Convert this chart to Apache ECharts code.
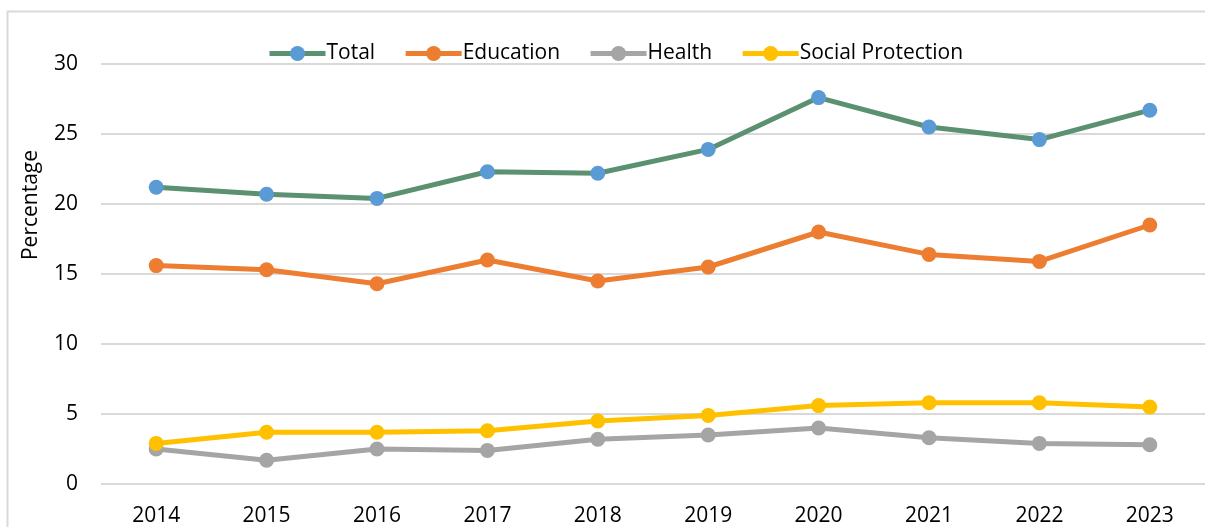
<!DOCTYPE html>
<html>
<head>
<meta charset="utf-8">
<script src="https://cdn.jsdelivr.net/npm/echarts@6/dist/echarts.min.js"></script>
<style>
  html, body { margin: 0; padding: 0; background: #fff; }
  #main { width: 1205px; height: 527px; }
</style>
</head>
<body>
<div id="main"></div>
<script>
// years on the x axis
var years = ['2014', '2015', '2016', '2017', '2018', '2019', '2020', '2021', '2022', '2023'];

// values (percentage)
var total = [21.2, 20.7, 20.4, 22.3, 22.2, 23.9, 27.6, 25.5, 24.6, 26.7];
var education = [15.6, 15.3, 14.3, 16.0, 14.5, 15.5, 18.0, 16.4, 15.9, 18.5];
var health = [2.5, 1.7, 2.5, 2.4, 3.2, 3.5, 4.0, 3.3, 2.9, 2.8];
var socialProtection = [2.9, 3.7, 3.7, 3.8, 4.5, 4.9, 5.6, 5.8, 5.8, 5.5];

var FONT = '"Open Sans", "Noto Sans", sans-serif';

function lineSeries(name, data, lineColor, dotColor) {
  return {
    name: name,
    type: 'line',
    data: data,
    symbol: 'circle',
    symbolSize: 15,
    lineStyle: { width: 5, color: lineColor },
    itemStyle: { color: dotColor },
    emphasis: { disabled: true }
  };
}

var chart = echarts.init(document.getElementById('main'));

var option = {
  animation: false,
  textStyle: { fontFamily: FONT },
  graphic: [
    {
      type: 'rect',
      shape: { x: 7.5, y: 11.5, width: 1220, height: 540 },
      style: { fill: 'none', stroke: '#d9d9d9', lineWidth: 2 },
      z: -1
    },
    {
      type: 'text',
      x: 21,
      y: 205,
      rotation: Math.PI / 2,
      style: {
        text: 'Percentage',
        font: '21px ' + FONT,
        fill: '#000',
        align: 'center',
        verticalAlign: 'top'
      }
    }
  ],
  legend: {
    left: 262,
    top: 38,
    itemWidth: 56,
    itemHeight: 19,
    itemGap: 28,
    lineStyle: { width: 5 },
    textStyle: { fontSize: 21, color: '#000', fontFamily: FONT, padding: [0, 0, 0, -4] }
  },
  grid: {
    left: 101,
    top: 64,
    width: 1107,
    bottom: 42,
    containLabel: false
  },
  xAxis: {
    type: 'category',
    data: years,
    boundaryGap: true,
    axisLine: { show: false },
    axisTick: { show: false },
    axisLabel: { color: '#000', fontSize: 21, margin: 22 }
  },
  yAxis: {
    type: 'value',
    min: 0,
    max: 30,
    interval: 5,
    axisLine: { show: false },
    axisTick: { show: false },
    axisLabel: { color: '#000', fontSize: 21, margin: 23 },
    splitLine: { lineStyle: { color: '#d9d9d9', width: 2 } }
  },
  series: [
    lineSeries('Total', total, '#5b9170', '#5b9bd5'),
    lineSeries('Education', education, '#ed7d31', '#ed7d31'),
    lineSeries('Health', health, '#a5a5a5', '#a5a5a5'),
    lineSeries('Social Protection', socialProtection, '#ffc000', '#ffc000')
  ]
};

chart.setOption(option);
</script>
</body>
</html>
